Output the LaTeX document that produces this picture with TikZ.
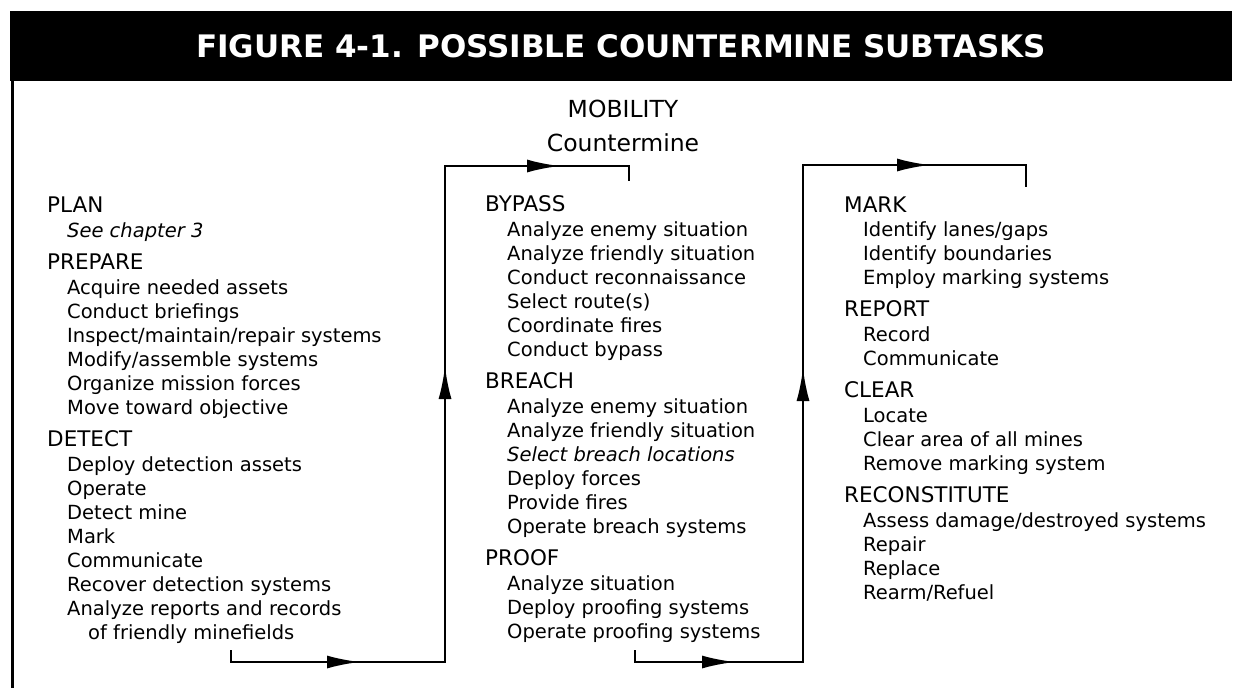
\documentclass[tikz,border=0pt]{standalone}
\usepackage{fontspec}
\setmainfont{DejaVu Sans}
\usetikzlibrary{arrows.meta}
\tikzset{
  hdr/.style={anchor=base west,inner sep=0pt,font=\fontsize{21.5}{26}\selectfont},
  txt/.style={anchor=base west,inner sep=0pt,font=\fontsize{19.5}{24}\selectfont},
  flow/.style={line width=2.5pt},
  tip/.style={line width=2.5pt,-{Latex[length=33pt,width=13pt]}}
}

\begin{document}
\begin{tikzpicture}[x=1pt,y=-1pt]
\useasboundingbox (0,0) rectangle (1234,688);
% title bar and frame
\fill (10,11) rectangle (1232,81);
\node[text=white,font=\bfseries\fontsize{31}{36}\selectfont] (title) at (621,46) {FIGURE 4-1. POSSIBLE COUNTERMINE SUBTASKS};
\draw[line width=3pt] (12,81) -- (12,688);
\node[anchor=base,font=\fontsize{23.5}{28}\selectfont] (mob) at (623,117) {MOBILITY};
\node[anchor=base,font=\fontsize{23.5}{28}\selectfont] (cmine) at (623,151) {Countermine};
% first column
\node[hdr] (plan) at (47,212) {PLAN};
\node[txt] (plan1) at (67,237) {\itshape See chapter 3};
\node[hdr] (prepare) at (47,269) {PREPARE};
\foreach \t [count=\i] in {Acquire needed assets,Conduct briefings,Inspect/maintain/repair systems,Modify/assemble systems,Organize mission forces,Move toward objective}
  \node[txt] (prep\i) at (67,270+24*\i) {\t};
\node[hdr] (detect) at (47,446) {DETECT};
\foreach \t [count=\i] in {Deploy detection assets,Operate,Detect mine,Mark,Communicate,Recover detection systems,Analyze reports and records}
  \node[txt] (det\i) at (67,447+24*\i) {\t};
\node[txt] (det8) at (88,639) {of friendly minefields};
% second column
\node[hdr] (bypass) at (485,211) {BYPASS};
\foreach \t [count=\i] in {Analyze enemy situation,Analyze friendly situation,Conduct reconnaissance,Select route(s),Coordinate fires,Conduct bypass}
  \node[txt] (byp\i) at (507,212+24*\i) {\t};
\node[hdr] (breach) at (485,388) {BREACH};
\foreach \t [count=\i] in {Analyze enemy situation,Analyze friendly situation,{\itshape Select breach locations},Deploy forces,Provide fires,Operate breach systems}
  \node[txt] (brc\i) at (507,389+24*\i) {\t};
\node[hdr] (proof) at (485,565) {PROOF};
\foreach \t [count=\i] in {Analyze situation,Deploy proofing systems,Operate proofing systems}
  \node[txt] (prf\i) at (507,566+24*\i) {\t};
% third column
\node[hdr] (mark) at (844,212) {MARK};
\foreach \t [count=\i] in {Identify lanes/gaps,Identify boundaries,Employ marking systems}
  \node[txt] (mrk\i) at (863,212+24*\i) {\t};
\node[hdr] (report) at (844,316) {REPORT};
\foreach \t [count=\i] in {Record,Communicate}
  \node[txt] (rep\i) at (863,317+24*\i) {\t};
\node[hdr] (clear) at (844,397) {CLEAR};
\foreach \t [count=\i] in {Locate,Clear area of all mines,Remove marking system}
  \node[txt] (clr\i) at (863,398+24*\i) {\t};
\node[hdr] (recon) at (844,502) {RECONSTITUTE};
\foreach \t [count=\i] in {Assess damage/destroyed systems,Repair,Replace,Rearm/Refuel}
  \node[txt] (rcn\i) at (863,503+24*\i) {\t};
% flow lines
\coordinate (a1) at (231,650); \coordinate (a2) at (231,662);
\coordinate (a3) at (445,662); \coordinate (a4) at (445,166);
\coordinate (a5) at (629,166); \coordinate (a6) at (629,181);
\coordinate (b1) at (635,650); \coordinate (b2) at (635,662);
\coordinate (b3) at (803,662); \coordinate (b4) at (803,165);
\coordinate (b5) at (1026,165); \coordinate (b6) at (1026,187);
\draw[flow] (a1) -- (a2) -- (a3) -- (a4) -- (a5) -- (a6);
\draw[flow] (b1) -- (b2) -- (b3) -- (b4) -- (b5) -- (b6);
\coordinate (ta1) at (360,662); \coordinate (ta2) at (445,366); \coordinate (ta3) at (560,166);
\coordinate (tb1) at (735,662); \coordinate (tb2) at (803,368); \coordinate (tb3) at (930,165);
\draw[tip] (a2) -- (ta1);
\draw[tip] (a3) -- (ta2);
\draw[tip] (a4) -- (ta3);
\draw[tip] (b2) -- (tb1);
\draw[tip] (b3) -- (tb2);
\draw[tip] (b4) -- (tb3);
\end{tikzpicture}
\end{document}
